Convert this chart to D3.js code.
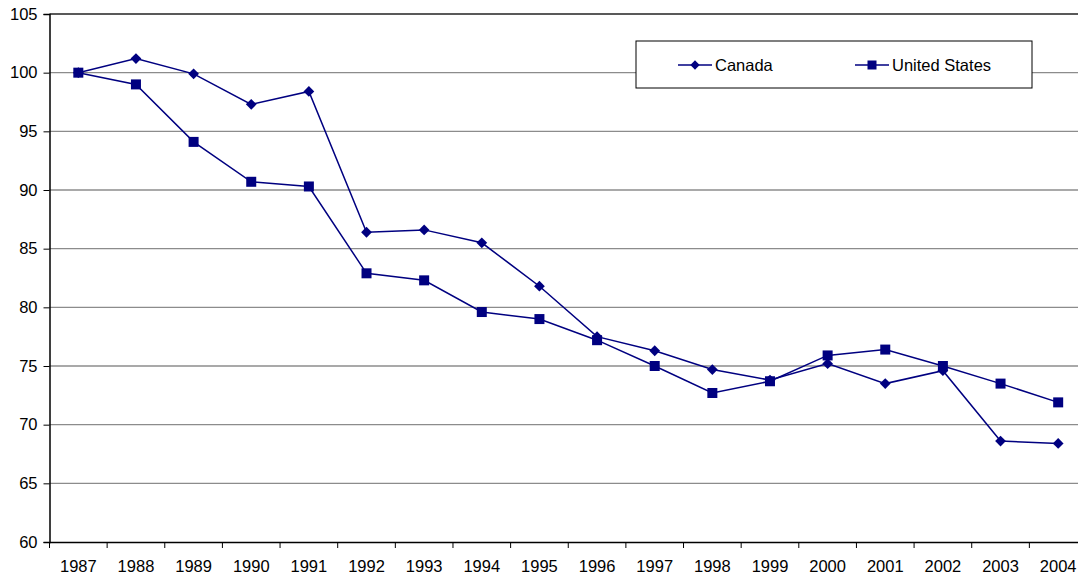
<!DOCTYPE html>
<html>
<head>
<meta charset="utf-8">
<script src="https://cdn.jsdelivr.net/npm/d3@7"></script>
<style>
  body { margin: 0; background: #fff; }
  svg { display: block; font-family: "Liberation Sans", Arial, sans-serif; }
</style>
</head>
<body>
<svg id="chart"></svg>
<script>
const years = [1987, 1988, 1989, 1990, 1991, 1992, 1993, 1994, 1995, 1996, 1997, 1998, 1999, 2000, 2001, 2002, 2003, 2004];
const canada = [100, 101.2, 99.9, 97.3, 98.4, 86.4, 86.6, 85.5, 81.8, 77.5, 76.3, 74.7, 73.8, 75.2, 73.5, 74.6, 68.6, 68.4];
const unitedStates = [100, 99.0, 94.1, 90.7, 90.3, 82.9, 82.3, 79.6, 79.0, 77.2, 75.0, 72.7, 73.7, 75.9, 76.4, 75.0, 73.5, 71.9];
const yTicks = [60, 65, 70, 75, 80, 85, 90, 95, 100, 105];

const width = 1078;
const height = 577;
const margin = { top: 14, right: -9, bottom: 35, left: 49.5 };
const navy = '#000080';
const fontSize = 16.5;

const svg = d3.select('#chart').attr('width', width).attr('height', height);

const x = d3.scaleBand()
	.domain(years)
	.range([margin.left, width - margin.right]);

const y = d3.scaleLinear()
	.domain([60, 105])
	.range([height - margin.bottom, margin.top]);

// gridlines
svg.append('g')
	.selectAll('line')
	.data(yTicks.slice(1, -1))
	.enter()
	.append('line')
	.attr('x1', margin.left)
	.attr('x2', width)
	.attr('y1', (d) => y(d))
	.attr('y2', (d) => y(d))
	.attr('stroke', '#8c8c8c')
	.attr('stroke-width', 1.3);

// top border
svg.append('line')
	.attr('x1', margin.left).attr('x2', width)
	.attr('y1', y(105)).attr('y2', y(105))
	.attr('stroke', '#222').attr('stroke-width', 1.3);

// y axis
const yAxis = svg.append('g')
	.attr('transform', `translate(${margin.left},0)`)
	.call(d3.axisLeft(y).tickValues(yTicks).tickSize(6).tickPadding(6));
yAxis.select('.domain').attr('stroke', '#000').attr('stroke-width', 1.5);
yAxis.selectAll('.tick line').attr('stroke', '#000');
yAxis.selectAll('text').attr('font-size', fontSize).attr('fill', '#000').attr('font-family', '"Liberation Sans", Arial, sans-serif');

// x axis with ticks at band edges
const xAxis = svg.append('g')
	.attr('transform', `translate(0,${height - margin.bottom})`)
	.call(d3.axisBottom(x).tickSize(0).tickPadding(18).tickSizeOuter(0));
xAxis.select('.domain').attr('stroke', '#000').attr('stroke-width', 1.5);
xAxis.selectAll('text').attr('font-size', fontSize).attr('fill', '#000').attr('font-family', '"Liberation Sans", Arial, sans-serif');
xAxis.selectAll('.edge')
	.data(years)
	.enter()
	.append('line')
	.attr('class', 'edge')
	.attr('x1', (d) => x(d))
	.attr('x2', (d) => x(d))
	.attr('y1', 0)
	.attr('y2', 6)
	.attr('stroke', '#000');

const line = d3.line()
	.x((d, i) => x(years[i]) + x.bandwidth() / 2)
	.y((d) => y(d));

const diamond = d3.symbol().type(d3.symbolDiamond2).size(74);

function drawSeries(values, marker) {
	svg.append('path')
		.datum(values)
		.attr('fill', 'none')
		.attr('stroke', navy)
		.attr('stroke-width', 1.5)
		.attr('d', line);
	const pts = svg.append('g')
		.selectAll('g')
		.data(values)
		.enter()
		.append('g')
		.attr('transform', (d, i) => `translate(${x(years[i]) + x.bandwidth() / 2},${y(d)})`);
	if (marker === 'square') {
		pts.append('rect')
			.attr('x', -5).attr('y', -5)
			.attr('width', 10).attr('height', 10)
			.attr('fill', navy);
	} else {
		pts.append('path').attr('d', diamond).attr('fill', navy);
	}
}

drawSeries(canada, 'diamond');
drawSeries(unitedStates, 'square');

// legend
const legend = svg.append('g').attr('transform', 'translate(636,41)');
legend.append('rect')
	.attr('width', 396).attr('height', 47)
	.attr('fill', '#fff').attr('stroke', '#000').attr('stroke-width', 1);

const items = [
	{ name: 'Canada', marker: 'diamond', x: 42 },
	{ name: 'United States', marker: 'square', x: 219 }
];
items.forEach((it) => {
	const g = legend.append('g').attr('transform', `translate(${it.x},24)`);
	g.append('line').attr('x1', 0).attr('x2', 34).attr('stroke', navy).attr('stroke-width', 1.5);
	if (it.marker === 'square') {
		g.append('rect').attr('x', 12.5).attr('y', -4.5).attr('width', 9).attr('height', 9).attr('fill', navy);
	} else {
		g.append('path').attr('transform', 'translate(17,0)').attr('d', d3.symbol().type(d3.symbolDiamond2).size(55)).attr('fill', navy);
	}
	g.append('text')
		.attr('x', 37).attr('y', 6)
		.attr('font-size', fontSize)
		.text(it.name);
});
</script>
</body>
</html>
